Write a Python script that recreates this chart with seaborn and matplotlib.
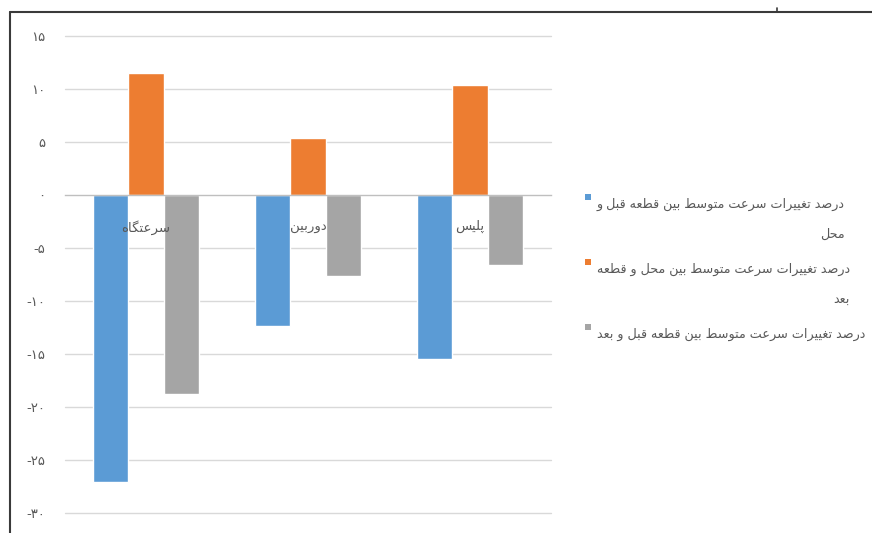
import matplotlib
matplotlib.use("Agg")
import matplotlib.pyplot as plt
import seaborn as sns
import pandas as pd
from matplotlib.lines import Line2D
from matplotlib.patches import Rectangle

# ---- data -------------------------------------------------------------
categories = ["سرعتگاه", "دوربین", "پلیس"]
series_names = [
    "درصد تغییرات سرعت متوسط بین قطعه قبل و محل",
    "درصد تغییرات سرعت متوسط بین محل و قطعه بعد",
    "درصد تغییرات سرعت متوسط بین قطعه قبل و بعد",
]
# legend entries as they wrap in the legend box
legend_lines = [
    ["درصد تغییرات سرعت متوسط بین قطعه قبل و", "محل"],
    ["درصد تغییرات سرعت متوسط بین محل و قطعه", "بعد"],
    ["درصد تغییرات سرعت متوسط بین قطعه قبل و بعد"],
]
before_vs_site = [-27.1, -12.4, -15.5]
site_vs_after = [11.5, 5.4, 10.4]
before_vs_after = [-18.8, -7.6, -6.6]
y_ticks = [-30, -25, -20, -15, -10, -5, 0, 5, 10, 15]
colors = ["#5B9BD5", "#ED7D31", "#A5A5A5"]

# ---- minimal Persian shaping (matplotlib has no complex text layout) --
FORMS = {
    "\u0627": ("\uFE8D", "\uFE8E", None, None),
    "\u0622": ("\uFE81", "\uFE82", None, None),
    "\u0628": ("\uFE8F", "\uFE90", "\uFE91", "\uFE92"),
    "\u067E": ("\uFB56", "\uFB57", "\uFB58", "\uFB59"),
    "\u062A": ("\uFE95", "\uFE96", "\uFE97", "\uFE98"),
    "\u062B": ("\uFE99", "\uFE9A", "\uFE9B", "\uFE9C"),
    "\u062C": ("\uFE9D", "\uFE9E", "\uFE9F", "\uFEA0"),
    "\u0686": ("\uFB7A", "\uFB7B", "\uFB7C", "\uFB7D"),
    "\u062D": ("\uFEA1", "\uFEA2", "\uFEA3", "\uFEA4"),
    "\u062E": ("\uFEA5", "\uFEA6", "\uFEA7", "\uFEA8"),
    "\u062F": ("\uFEA9", "\uFEAA", None, None),
    "\u0630": ("\uFEAB", "\uFEAC", None, None),
    "\u0631": ("\uFEAD", "\uFEAE", None, None),
    "\u0632": ("\uFEAF", "\uFEB0", None, None),
    "\u0698": ("\uFB8A", "\uFB8B", None, None),
    "\u0633": ("\uFEB1", "\uFEB2", "\uFEB3", "\uFEB4"),
    "\u0634": ("\uFEB5", "\uFEB6", "\uFEB7", "\uFEB8"),
    "\u0635": ("\uFEB9", "\uFEBA", "\uFEBB", "\uFEBC"),
    "\u0636": ("\uFEBD", "\uFEBE", "\uFEBF", "\uFEC0"),
    "\u0637": ("\uFEC1", "\uFEC2", "\uFEC3", "\uFEC4"),
    "\u0638": ("\uFEC5", "\uFEC6", "\uFEC7", "\uFEC8"),
    "\u0639": ("\uFEC9", "\uFECA", "\uFECB", "\uFECC"),
    "\u063A": ("\uFECD", "\uFECE", "\uFECF", "\uFED0"),
    "\u0641": ("\uFED1", "\uFED2", "\uFED3", "\uFED4"),
    "\u0642": ("\uFED5", "\uFED6", "\uFED7", "\uFED8"),
    "\u06A9": ("\uFB8E", "\uFB8F", "\uFB90", "\uFB91"),
    "\u06AF": ("\uFB92", "\uFB93", "\uFB94", "\uFB95"),
    "\u0644": ("\uFEDD", "\uFEDE", "\uFEDF", "\uFEE0"),
    "\u0645": ("\uFEE1", "\uFEE2", "\uFEE3", "\uFEE4"),
    "\u0646": ("\uFEE5", "\uFEE6", "\uFEE7", "\uFEE8"),
    "\u0647": ("\uFEE9", "\uFEEA", "\uFEEB", "\uFEEC"),
    "\u0648": ("\uFEED", "\uFEEE", None, None),
    "\u06CC": ("\uFBFC", "\uFBFD", "\uFBFE", "\uFBFF"),
    "\u064A": ("\uFEF1", "\uFEF2", "\uFEF3", "\uFEF4"),
}


def shape(text):
    chars = list(text)
    out = []
    for i, c in enumerate(chars):
        if c not in FORMS:
            out.append(c)
            continue
        iso, fin, ini, med = FORMS[c]
        prev = chars[i - 1] if i > 0 else None
        nxt = chars[i + 1] if i + 1 < len(chars) else None
        join_prev = prev in FORMS and FORMS[prev][2] is not None
        join_next = ini is not None and nxt in FORMS
        if join_prev and join_next:
            out.append(med)
        elif join_prev:
            out.append(fin)
        elif join_next:
            out.append(ini)
        else:
            out.append(iso)
    return "".join(reversed(out))


def fa_number(v):
    digits = str(abs(v)).translate(str.maketrans("0123456789", "۰۱۲۳۴۵۶۷۸۹"))
    return ("-" if v < 0 else "") + digits


# ---- long-form table -----------------------------------------------------
values = [before_vs_site, site_vs_after, before_vs_after]
df = pd.DataFrame(
    [
        {"category": cat, "series": name, "value": vals[i]}
        for name, vals in zip(series_names, values)
        for i, cat in enumerate(categories)
    ]
)

# ---- figure --------------------------------------------------------------
W, H = 872, 533
sns.set_theme(style="white")
plt.rcParams["font.family"] = ["DejaVu Sans"]
fig = plt.figure(figsize=(W / 100, H / 100), dpi=100)
fig.patch.set_facecolor("white")

ax = fig.add_axes([65 / W, 20 / H, (551 - 65) / W, (513 - 36) / H])
sns.barplot(
    data=df, x="category", y="value", hue="series", hue_order=series_names,
    order=categories, palette=colors, width=0.66, gap=0, errorbar=None,
    saturation=1, legend=False, ax=ax, zorder=1,
)

ax.set_xlim(-0.5, len(categories) - 0.5)
ax.set_ylim(y_ticks[0], y_ticks[-1])
ax.grid(False)
ax.set_axisbelow(False)
for yv in y_ticks:
    if yv != 0:
        ax.axhline(yv, color="#d9d9d9", lw=1.0, zorder=0.5, clip_on=False)

for side in ("left", "right", "top"):
    ax.spines[side].set_visible(False)
ax.spines["bottom"].set_position(("data", 0))
ax.spines["bottom"].set_color("#bfbfbf")
ax.spines["bottom"].set_linewidth(1.0)

ax.set_xlabel("")
ax.set_ylabel("")
ax.set_xticks(range(len(categories)))
ax.set_xticklabels([shape(c) for c in categories])
ax.set_xticks([i - 0.5 for i in range(len(categories) + 1)], minor=True)
ax.tick_params(axis="x", which="major", length=0, pad=18, labelsize=9.5,
               labelcolor="#595959")
ax.tick_params(axis="x", which="minor", length=3.5, width=1.0,
               color="#bfbfbf", direction="out")

ax.set_yticks(y_ticks)
ax.set_yticklabels([fa_number(v) for v in y_ticks])
ax.tick_params(axis="y", length=0, pad=14, labelsize=9.5, labelcolor="#595959")

# ---- legend drawn at the right of the plot --------------------------------
legend_tops = [198, 263, 328]
for lines, col, top in zip(legend_lines, colors, legend_tops):
    fig.add_artist(Rectangle((585 / W, 1 - (top + 2) / H), 6 / W, 6 / H,
                             transform=fig.transFigure, facecolor=col,
                             edgecolor="none"))
    fig.text(597 / W, 1 - top / H, "\n".join(shape(s) for s in lines),
             ha="left", va="top", multialignment="right", linespacing=2.65,
             fontsize=9.2, color="#595959")

# ---- outer frame ---------------------------------------------------------
frame = "#3a3a3a"
fig.add_artist(Line2D([10 / W, 1], [1 - 12 / H] * 2, color=frame, lw=1.5,
                      transform=fig.transFigure))
fig.add_artist(Line2D([10 / W] * 2, [0, 1 - 12 / H], color=frame, lw=1.5,
                      transform=fig.transFigure))
fig.add_artist(Line2D([777 / W] * 2, [1 - 8 / H, 1 - 12 / H], color=frame,
                      lw=1.2, transform=fig.transFigure))

fig.savefig("out.png", dpi=100, facecolor="white")
